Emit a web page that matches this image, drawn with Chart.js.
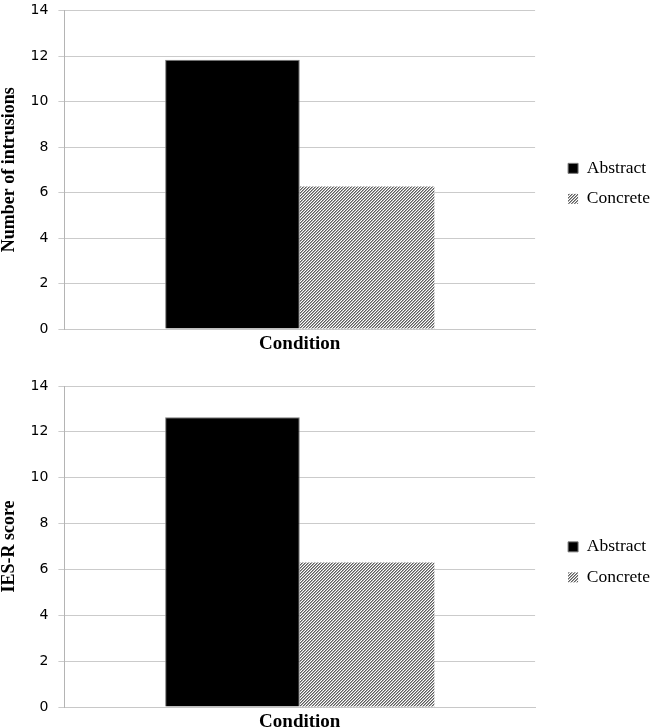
<!DOCTYPE html>
<html>
<head>
<meta charset="utf-8">
<script src="https://cdn.jsdelivr.net/npm/chart.js@4"></script>
<style>
  html, body { margin: 0; padding: 0; background: #fff; }
  #boxTop { position: relative; width: 652px; height: 354px; }
  #boxBottom { position: relative; width: 652px; height: 374px; }
</style>
</head>
<body>
<div id="boxTop"><canvas id="chartIntrusions"></canvas></div>
<div id="boxBottom"><canvas id="chartIes"></canvas></div>
<script>
// data
var conditions = ['Abstract', 'Concrete'];
var category = ['Condition'];
var intrusions = [11.84, 6.27];
var iesScores = [12.64, 6.3];
var yMin = 0, yMax = 14, yStep = 2;

// hatch pattern for the concrete bar, 3px diagonal stripes
function makeHatch() {
  var c = document.createElement('canvas');
  c.width = 3; c.height = 3;
  var g = c.getContext('2d');
  var shades = ['#5e5e5e', '#a4a4a4', '#ffffff'];
  for (var x = 0; x < 3; x++) {
    for (var y = 0; y < 3; y++) {
      g.fillStyle = shades[(x + y) % 3];
      g.fillRect(x, y, 1, 1);
    }
  }
  return g.createPattern(c, 'repeat');
}
var hatch = makeHatch();

function makeChart(id, values, yTitle, pad, xTitlePad, legendShift) {
  var el = document.getElementById(id);
  return new Chart(el, {
    type: 'bar',
    data: {
      labels: category,
      datasets: [{
        label: conditions[0],
        data: [values[0]],
        backgroundColor: '#000000',
        borderColor: '#7a7a7a',
        borderWidth: 1,
        yAxisID: 'y'
      }, {
        label: conditions[1],
        data: [values[1]],
        backgroundColor: hatch,
        borderWidth: 0,
        yAxisID: 'y'
      }]
    },
    options: {
      responsive: true,
      maintainAspectRatio: false,
      animation: false,
      layout: { padding: pad },
      datasets: { bar: { barPercentage: 1, categoryPercentage: 0.572 } },
      plugins: {
        legend: {
          position: 'right',
          // blank title only pushes the legend items down a little
          title: { display: true, text: ' ', padding: { top: legendShift, bottom: 0 }, font: { size: 1 } },
          labels: {
            boxWidth: 10,
            boxHeight: 10,
            padding: 13,
            color: '#000',
            font: { family: 'Liberation Serif', size: 17.5 }
          }
        },
        tooltip: { enabled: false }
      },
      scales: {
        x: {
          grid: { display: false },
          border: { color: '#c8c8c8' },
          ticks: { display: false },
          title: {
            display: true,
            text: 'Condition',
            color: '#000',
            padding: xTitlePad,
            font: { family: 'Liberation Serif', size: 19, weight: 'bold', lineHeight: 1 }
          }
        },
        y: {
          min: yMin,
          max: yMax,
          ticks: {
            stepSize: yStep,
            color: '#000',
            padding: 10,
            font: { family: 'DejaVu Sans', size: 14, lineHeight: 0.1 }
          },
          grid: { color: '#cbcbcb', lineWidth: 1, tickLength: 6 },
          border: { color: '#b4b4b4' },
          title: {
            display: true,
            text: yTitle,
            color: '#000',
            padding: { top: 0, bottom: 0 },
            font: { family: 'Liberation Serif', size: 18, weight: 'bold' }
          }
        },
        // empty right axis: keeps a gap between the plot and the legend
        gap: {
          type: 'linear',
          position: 'right',
          grid: { display: false },
          border: { display: false },
          ticks: { display: false },
          afterFit: function (s) { s.width = 20; }
        }
      }
    }
  });
}

makeChart('chartIntrusions', intrusions, 'Number of intrusions',
  { top: 0, bottom: 0, left: -1, right: -8 }, { top: -2, bottom: 0 }, 12);
makeChart('chartIes', iesScores, 'IES-R score',
  { top: 32, bottom: 0, left: -1, right: -8 }, { top: -2, bottom: -4 }, 9);
</script>
</body>
</html>
